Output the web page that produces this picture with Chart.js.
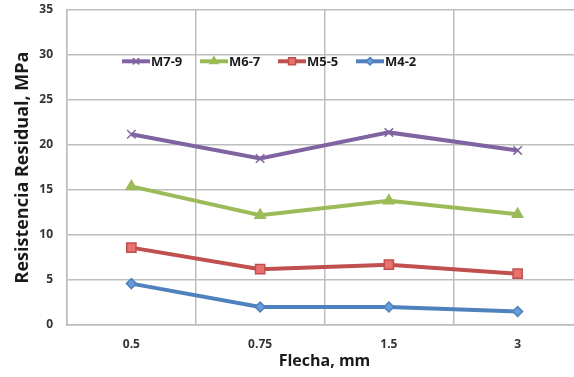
<!DOCTYPE html>
<html lang="es">
<head>
    <meta charset="UTF-8">
    <title>Resistencia Residual vs Flecha</title>
    <script src="https://cdn.jsdelivr.net/npm/chart.js"></script>
    <style>
        html, body { margin: 0; padding: 0; background: #fff; overflow: hidden; }
        #wrap { width: 590px; height: 377px; position: relative; }
    </style>
</head>
<body>
    <div id="wrap"><canvas id="chart"></canvas></div>

    <script>
        // Datos
        const flecha = ['0.5', '0.75', '1.5', '3'];
        const seriesNames = ['M7-9', 'M6-7', 'M5-5', 'M4-2'];
        const m79 = [21.2, 18.5, 21.4, 19.4];
        const m67 = [15.4, 12.2, 13.8, 12.3];
        const m55 = [8.6, 6.2, 6.7, 5.7];
        const m42 = [4.6, 2.0, 2.0, 1.5];
        const yTicks = [0, 5, 10, 15, 20, 25, 30, 35];

        const FONT = "'Open Sans', 'Liberation Sans', Arial, sans-serif";

        // Leyenda dentro del area del grafico, en una fila
        const innerLegend = {
            id: 'innerLegend',
            afterDatasetsDraw(chart) {
                const ctx = chart.ctx;
                const y = chart.scales.y.getPixelForValue(29.3);
                let x = 122;
                chart.data.datasets.forEach(ds => {
                    ctx.save();
                    ctx.strokeStyle = ds.borderColor;
                    ctx.lineWidth = 4;
                    ctx.beginPath();
                    ctx.moveTo(x, y);
                    ctx.lineTo(x + 28, y);
                    ctx.stroke();
                    ctx.fillStyle = ds.pointBackgroundColor;
                    ctx.strokeStyle = ds.pointBorderColor;
                    ctx.lineWidth = ds.pointBorderWidth;
                    Chart.helpers.drawPoint(ctx, {
                        pointStyle: ds.pointStyle,
                        radius: ds.pointRadius * 0.75,
                        borderWidth: ds.pointBorderWidth
                    }, x + 14, y);
                    ctx.restore();

                    ctx.save();
                    ctx.fillStyle = '#1a1a1a';
                    ctx.font = 'bold 13px ' + FONT;
                    ctx.textBaseline = 'middle';
                    ctx.fillText(ds.label, x + 29, y + 1);
                    ctx.restore();
                    x += 78;
                });
            }
        };

        function serie(label, data, color, fill, style, radius) {
            return {
                label: label,
                data: data,
                borderColor: color,
                borderWidth: 4,
                pointStyle: style,
                pointRadius: radius,
                pointHoverRadius: radius,
                pointBackgroundColor: fill,
                pointBorderColor: color,
                pointBorderWidth: 1.5,
                tension: 0,
                fill: false
            };
        }

        new Chart(document.getElementById('chart'), {
            type: 'line',
            data: {
                labels: flecha,
                datasets: [
                    serie(seriesNames[0], m79, '#8064A2', '#8064A2', 'crossRot', 6),
                    serie(seriesNames[1], m67, '#9BBB59', '#9BBB59', 'triangle', 6),
                    serie(seriesNames[2], m55, '#C0504D', '#E8716E', 'rect', 6.5),
                    serie(seriesNames[3], m42, '#4F81BD', '#6A9BD8', 'rectRot', 5)
                ]
            },
            plugins: [innerLegend],
            options: {
                responsive: true,
                maintainAspectRatio: false,
                animation: false,
                layout: { padding: { left: 0, top: 10, right: 5, bottom: 0 } },
                plugins: {
                    legend: { display: false },
                    tooltip: { enabled: false }
                },
                scales: {
                    x: {
                        offset: true,
                        grid: { offset: true, color: '#BDBDBD', lineWidth: 1.5, drawTicks: false },
                        border: { color: '#BDBDBD', width: 1.5 },
                        ticks: { color: '#333', font: { family: FONT, size: 12, weight: 'bold' }, padding: 12 },
                        title: {
                            display: true,
                            text: 'Flecha, mm',
                            color: '#1a1a1a',
                            font: { family: FONT, size: 16, weight: 'bold' },
                            padding: { top: 0, bottom: 6 }
                        },
                        afterFit(scale) {
                            scale.height = 52;
                            scale.paddingLeft = 0;
                            scale.paddingRight = 0;
                        }
                    },
                    y: {
                        min: 0,
                        max: 35,
                        afterBuildTicks(scale) { scale.ticks = yTicks.map(v => ({ value: v })); },
                        grid: { color: '#BDBDBD', lineWidth: 1.5, drawTicks: false },
                        border: { color: '#BDBDBD', width: 1.5 },
                        ticks: { color: '#333', font: { family: FONT, size: 12, weight: 'bold' }, padding: 14 },
                        title: {
                            display: true,
                            text: 'Resistencia Residual, MPa',
                            color: '#1a1a1a',
                            font: { family: FONT, size: 18, weight: 'bold' },
                            padding: { top: 12, bottom: 0 }
                        },
                        afterFit(scale) {
                            scale.width = 67;
                            scale.paddingTop = 0;
                            scale.paddingBottom = 0;
                        }
                    }
                }
            }
        });
    </script>
</body>
</html>
